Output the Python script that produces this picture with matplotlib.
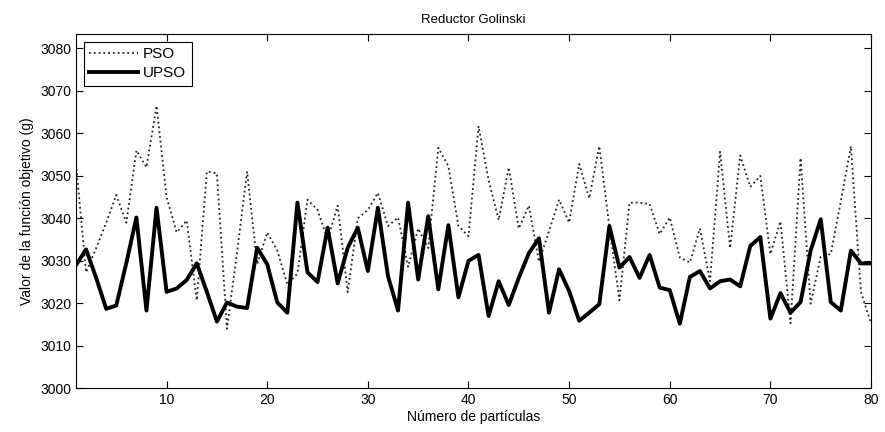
import matplotlib
matplotlib.use("Agg")
import matplotlib.pyplot as plt
import numpy as np

particles = list(range(1, 81))

pso = [3052.8, 3027.3, 3033.0, 3039.0, 3045.5, 3039.0, 3056.0, 3052.0, 3066.5, 3045.0,
       3036.7, 3039.5, 3020.7, 3051.0, 3050.6, 3014.0, 3032.0, 3051.0, 3029.2, 3036.7,
       3032.4, 3024.5, 3027.0, 3044.4, 3042.0, 3035.0, 3043.0, 3022.6, 3040.0, 3042.0,
       3046.0, 3038.2, 3040.2, 3028.6, 3037.6, 3033.0, 3056.6, 3052.3, 3038.2, 3035.8,
       3061.7, 3049.0, 3039.6, 3052.0, 3037.6, 3043.0, 3029.8, 3037.0, 3044.4, 3039.0,
       3052.8, 3044.7, 3057.0, 3038.0, 3020.7, 3043.7, 3043.7, 3043.4, 3036.3, 3040.2,
       3030.8, 3029.6, 3037.6, 3025.2, 3055.7, 3033.0, 3054.8, 3047.4, 3050.0, 3031.6,
       3039.3, 3015.3, 3054.2, 3019.9, 3031.0, 3031.6, 3044.0, 3057.0, 3022.7, 3015.2]

upso = [3029.0, 3032.7, 3026.0, 3018.7, 3019.5, 3029.5, 3040.2, 3018.3, 3042.5, 3022.7,
        3023.5, 3025.5, 3029.4, 3022.7, 3015.7, 3020.2, 3019.2, 3018.9, 3033.1, 3029.2,
        3020.2, 3017.8, 3043.7, 3027.3, 3025.0, 3037.8, 3024.7, 3033.1, 3037.8, 3027.6,
        3042.5, 3026.4, 3018.3, 3043.7, 3025.6, 3040.5, 3023.3, 3038.4, 3021.4, 3030.0,
        3031.4, 3017.0, 3025.2, 3019.6, 3026.0, 3031.8, 3035.3, 3017.8, 3028.0, 3022.9,
        3015.9, 3017.8, 3019.8, 3038.2, 3028.4, 3030.9, 3026.0, 3031.4, 3023.7, 3023.1,
        3015.2, 3026.2, 3027.6, 3023.5, 3025.2, 3025.6, 3024.0, 3033.5, 3035.6, 3016.4,
        3022.4, 3017.8, 3020.3, 3032.4, 3039.8, 3020.3, 3018.3, 3032.4, 3029.4, 3029.4]

xticks = [10, 20, 30, 40, 50, 60, 70, 80]
yticks = [3000, 3010, 3020, 3030, 3040, 3050, 3060, 3070, 3080]

plt.rcParams['font.family'] = ['Liberation Sans', 'DejaVu Sans']
fig = plt.figure(figsize=(8.85, 4.32), dpi=100)
ax = fig.add_axes([0.0859, 0.1012, 0.8983, 0.8201])

ax.plot(particles, pso, color='#222222', linestyle=':', linewidth=1.3, label='PSO')
ax.plot(particles, upso, color='black', linestyle='-', linewidth=2.8, label='UPSO')

ax.set_xlim(1, 80)
ax.set_ylim(3000, 3083.4)
ax.set_xticks(xticks)
ax.set_yticks(yticks)
ax.tick_params(direction='in', top=True, right=True, labelsize=10, length=5, width=0.8)
for s in ax.spines.values():
    s.set_linewidth(0.8)

ax.set_title('Reductor Golinski', fontsize=9.5, pad=8)
ax.set_xlabel('Número de partículas', fontsize=10, labelpad=2)
ax.set_ylabel('Valor de la función objetivo (g)', fontsize=10, labelpad=4)

leg = ax.legend(loc='upper left', fontsize=11, fancybox=False, edgecolor='black',
                framealpha=1, borderaxespad=0.5, handlelength=3.2, handletextpad=0.35,
                borderpad=0.35, labelspacing=0.35)
leg.get_frame().set_linewidth(0.8)

fig.savefig('out.png', dpi=100)
